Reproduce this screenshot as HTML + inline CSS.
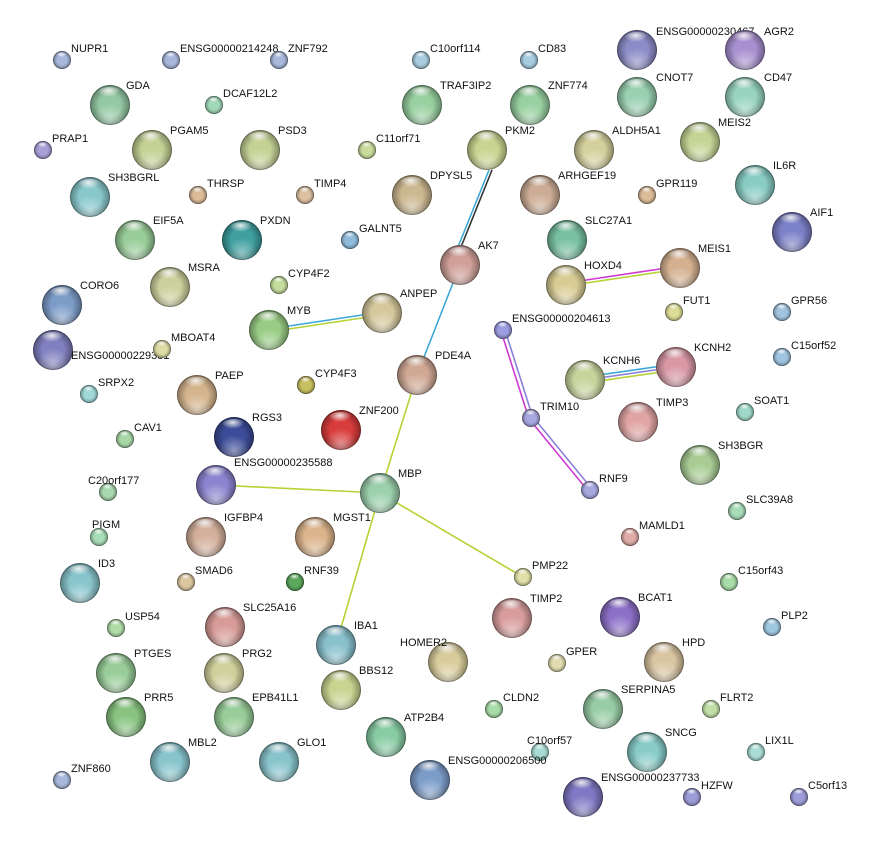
<!DOCTYPE html>
<html><head><meta charset="utf-8"><style>
body{margin:0;background:#fff}
svg{display:block}
text{font-family:"Liberation Sans",Arial,sans-serif;font-size:11px;fill:#111}
</style></head><body>
<svg width="870" height="844" viewBox="0 0 870 844" xmlns="http://www.w3.org/2000/svg">
<defs>
<radialGradient id="sh" cx="50%" cy="50%" r="50%"><stop offset="0.55" stop-color="#000" stop-opacity="0"/><stop offset="1" stop-color="#000" stop-opacity="0.35"/></radialGradient>
<radialGradient id="hl" cx="45%" cy="25%" r="45%"><stop offset="0" stop-color="#fff" stop-opacity="0.85"/><stop offset="1" stop-color="#fff" stop-opacity="0"/></radialGradient>
<radialGradient id="bt" cx="50%" cy="85%" r="40%"><stop offset="0" stop-color="#fff" stop-opacity="0.45"/><stop offset="1" stop-color="#fff" stop-opacity="0"/></radialGradient>
<g id="B"><circle cx="20" cy="20" r="20" fill="url(#sh)"/><circle cx="20" cy="20" r="20" fill="url(#bt)"/><ellipse cx="20" cy="9" rx="13" ry="7" fill="url(#hl)"/><circle cx="20" cy="20" r="19.5" fill="none" stroke="#000" stroke-opacity="0.25"/></g>
<g id="S"><circle cx="9" cy="9" r="9" fill="url(#sh)"/><ellipse cx="9" cy="5" rx="6" ry="3.5" fill="url(#hl)"/><circle cx="9" cy="9" r="8.6" fill="none" stroke="#000" stroke-opacity="0.25"/></g>
</defs>
<!-- edges -->
<g stroke-width="1.6" fill="none">
<line x1="489" y1="170" x2="458" y2="247" stroke="#3aa8d6"/>
<line x1="492" y1="170" x2="461" y2="247" stroke="#333"/>
<line x1="460" y1="265" x2="417" y2="375" stroke="#3aa8d6"/>
<line x1="417" y1="375" x2="380" y2="493" stroke="#b5d334"/>
<line x1="216" y1="485" x2="380" y2="493" stroke="#b5d334"/>
<line x1="380" y1="493" x2="523" y2="577" stroke="#b5d334"/>
<line x1="380" y1="493" x2="336" y2="645" stroke="#b5d334"/>
<line x1="269" y1="329" x2="382" y2="312" stroke="#3aa8d6"/>
<line x1="269" y1="332" x2="382" y2="315" stroke="#b5d334"/>
<line x1="566" y1="283" x2="680" y2="266" stroke="#d03ad0"/>
<line x1="566" y1="286" x2="680" y2="269" stroke="#b5d334"/>
<line x1="501" y1="331" x2="529" y2="419" stroke="#d03ad0"/>
<line x1="505" y1="330" x2="533" y2="418" stroke="#8a82d8"/>
<line x1="530" y1="420" x2="589" y2="492" stroke="#d03ad0"/>
<line x1="533" y1="417" x2="592" y2="489" stroke="#8a82d8"/>
<line x1="585" y1="377" x2="676" y2="364" stroke="#3aa8d6"/>
<line x1="585" y1="380" x2="676" y2="367" stroke="#8a82d8"/>
<line x1="585" y1="383" x2="676" y2="370" stroke="#b5d334"/>
</g>
<!-- nodes -->
<g>
<circle cx="62" cy="60" r="9" fill="#a8b8dc"/><use href="#S" x="53" y="51"/><text x="71" y="52">NUPR1</text>
<circle cx="171" cy="60" r="9" fill="#a8b8dc"/><use href="#S" x="162" y="51"/><text x="180" y="52">ENSG00000214248</text>
<circle cx="279" cy="60" r="9" fill="#a8b8dc"/><use href="#S" x="270" y="51"/><text x="288" y="52">ZNF792</text>
<circle cx="421" cy="60" r="9" fill="#a8cce0"/><use href="#S" x="412" y="51"/><text x="430" y="52">C10orf114</text>
<circle cx="529" cy="60" r="9" fill="#a8cce0"/><use href="#S" x="520" y="51"/><text x="538" y="52">CD83</text>
<circle cx="637" cy="50" r="20" fill="#8c8cc8"/><use href="#B" x="617" y="30"/><text x="656" y="35">ENSG00000230467</text>
<circle cx="745" cy="50" r="20" fill="#a890d0"/><use href="#B" x="725" y="30"/><text x="764" y="35">AGR2</text>
<circle cx="110" cy="105" r="20" fill="#94c8a4"/><use href="#B" x="90" y="85"/><text x="126" y="89">GDA</text>
<circle cx="214" cy="105" r="9" fill="#a0d8b8"/><use href="#S" x="205" y="96"/><text x="223" y="97">DCAF12L2</text>
<circle cx="422" cy="105" r="20" fill="#98d0a0"/><use href="#B" x="402" y="85"/><text x="440" y="89">TRAF3IP2</text>
<circle cx="530" cy="105" r="20" fill="#98d0a0"/><use href="#B" x="510" y="85"/><text x="548" y="89">ZNF774</text>
<circle cx="637" cy="97" r="20" fill="#98d0b0"/><use href="#B" x="617" y="77"/><text x="656" y="81">CNOT7</text>
<circle cx="745" cy="97" r="20" fill="#98d4c0"/><use href="#B" x="725" y="77"/><text x="764" y="81">CD47</text>
<circle cx="43" cy="150" r="9" fill="#a8a0d8"/><use href="#S" x="34" y="141"/><text x="52" y="142">PRAP1</text>
<circle cx="152" cy="150" r="20" fill="#c4d094"/><use href="#B" x="132" y="130"/><text x="170" y="134">PGAM5</text>
<circle cx="260" cy="150" r="20" fill="#c4d094"/><use href="#B" x="240" y="130"/><text x="278" y="134">PSD3</text>
<circle cx="367" cy="150" r="9" fill="#c8dc9c"/><use href="#S" x="358" y="141"/><text x="376" y="142">C11orf71</text>
<circle cx="487" cy="150" r="20" fill="#c8d490"/><use href="#B" x="467" y="130"/><text x="505" y="134">PKM2</text>
<circle cx="594" cy="150" r="20" fill="#d4d09c"/><use href="#B" x="574" y="130"/><text x="612" y="134">ALDH5A1</text>
<circle cx="700" cy="142" r="20" fill="#c4d494"/><use href="#B" x="680" y="122"/><text x="718" y="126">MEIS2</text>
<circle cx="90" cy="197" r="20" fill="#88c8cc"/><use href="#B" x="70" y="177"/><text x="108" y="181">SH3BGRL</text>
<circle cx="198" cy="195" r="9" fill="#dcbc98"/><use href="#S" x="189" y="186"/><text x="207" y="187">THRSP</text>
<circle cx="305" cy="195" r="9" fill="#dcc0a0"/><use href="#S" x="296" y="186"/><text x="314" y="187">TIMP4</text>
<circle cx="412" cy="195" r="20" fill="#ccb890"/><use href="#B" x="392" y="175"/><text x="430" y="179">DPYSL5</text>
<circle cx="540" cy="195" r="20" fill="#ccac94"/><use href="#B" x="520" y="175"/><text x="558" y="179">ARHGEF19</text>
<circle cx="647" cy="195" r="9" fill="#dcbc98"/><use href="#S" x="638" y="186"/><text x="656" y="187">GPR119</text>
<circle cx="755" cy="185" r="20" fill="#88ccc4"/><use href="#B" x="735" y="165"/><text x="773" y="169">IL6R</text>
<circle cx="135" cy="240" r="20" fill="#98cc98"/><use href="#B" x="115" y="220"/><text x="153" y="224">EIF5A</text>
<circle cx="242" cy="240" r="20" fill="#40a0a0"/><use href="#B" x="222" y="220"/><text x="260" y="224">PXDN</text>
<circle cx="350" cy="240" r="9" fill="#90bcdc"/><use href="#S" x="341" y="231"/><text x="359" y="232">GALNT5</text>
<circle cx="567" cy="240" r="20" fill="#78c0a0"/><use href="#B" x="547" y="220"/><text x="585" y="224">SLC27A1</text>
<circle cx="792" cy="232" r="20" fill="#7c80c8"/><use href="#B" x="772" y="212"/><text x="810" y="216">AIF1</text>
<circle cx="460" cy="265" r="20" fill="#d0a098"/><use href="#B" x="440" y="245"/><text x="478" y="249">AK7</text>
<circle cx="566" cy="285" r="20" fill="#d8cc94"/><use href="#B" x="546" y="265"/><text x="584" y="269">HOXD4</text>
<circle cx="680" cy="268" r="20" fill="#d4b090"/><use href="#B" x="660" y="248"/><text x="698" y="252">MEIS1</text>
<circle cx="62" cy="305" r="20" fill="#7c9cc8"/><use href="#B" x="42" y="285"/><text x="80" y="289">CORO6</text>
<circle cx="170" cy="287" r="20" fill="#ccd09c"/><use href="#B" x="150" y="267"/><text x="188" y="271">MSRA</text>
<circle cx="279" cy="285" r="9" fill="#c4dc9c"/><use href="#S" x="270" y="276"/><text x="288" y="277">CYP4F2</text>
<circle cx="674" cy="312" r="9" fill="#dcdc98"/><use href="#S" x="665" y="303"/><text x="683" y="304">FUT1</text>
<circle cx="782" cy="312" r="9" fill="#a0c4e0"/><use href="#S" x="773" y="303"/><text x="791" y="304">GPR56</text>
<circle cx="269" cy="330" r="20" fill="#98cc84"/><use href="#B" x="249" y="310"/><text x="287" y="314">MYB</text>
<circle cx="382" cy="313" r="20" fill="#d4c89c"/><use href="#B" x="362" y="293"/><text x="400" y="297">ANPEP</text>
<circle cx="53" cy="350" r="20" fill="#8080c0"/><use href="#B" x="33" y="330"/><text x="71" y="359">ENSG00000229381</text>
<circle cx="162" cy="349" r="9" fill="#dcdca4"/><use href="#S" x="153" y="340"/><text x="171" y="341">MBOAT4</text>
<circle cx="503" cy="330" r="9" fill="#9c9ce0"/><use href="#S" x="494" y="321"/><text x="512" y="322">ENSG00000204613</text>
<circle cx="585" cy="380" r="20" fill="#c8d49c"/><use href="#B" x="565" y="360"/><text x="603" y="364">KCNH6</text>
<circle cx="676" cy="367" r="20" fill="#d898a4"/><use href="#B" x="656" y="347"/><text x="694" y="351">KCNH2</text>
<circle cx="782" cy="357" r="9" fill="#a0c4e0"/><use href="#S" x="773" y="348"/><text x="791" y="349">C15orf52</text>
<circle cx="89" cy="394" r="9" fill="#a0d8d8"/><use href="#S" x="80" y="385"/><text x="98" y="386">SRPX2</text>
<circle cx="197" cy="395" r="20" fill="#d4b48c"/><use href="#B" x="177" y="375"/><text x="215" y="379">PAEP</text>
<circle cx="306" cy="385" r="9" fill="#c8c060"/><use href="#S" x="297" y="376"/><text x="315" y="377">CYP4F3</text>
<circle cx="417" cy="375" r="20" fill="#d0a894"/><use href="#B" x="397" y="355"/><text x="435" y="359">PDE4A</text>
<circle cx="341" cy="430" r="20" fill="#d83c3c"/><use href="#B" x="321" y="410"/><text x="359" y="414">ZNF200</text>
<circle cx="638" cy="422" r="20" fill="#e0a4a4"/><use href="#B" x="618" y="402"/><text x="656" y="406">TIMP3</text>
<circle cx="531" cy="418" r="9" fill="#a8a8e0"/><use href="#S" x="522" y="409"/><text x="540" y="410">TRIM10</text>
<circle cx="745" cy="412" r="9" fill="#a0d8c8"/><use href="#S" x="736" y="403"/><text x="754" y="404">SOAT1</text>
<circle cx="125" cy="439" r="9" fill="#a8d8a8"/><use href="#S" x="116" y="430"/><text x="134" y="431">CAV1</text>
<circle cx="234" cy="437" r="20" fill="#3c4c98"/><use href="#B" x="214" y="417"/><text x="252" y="421">RGS3</text>
<circle cx="700" cy="465" r="20" fill="#a8cc94"/><use href="#B" x="680" y="445"/><text x="718" y="449">SH3BGR</text>
<circle cx="216" cy="485" r="20" fill="#8c84d0"/><use href="#B" x="196" y="465"/><text x="234" y="466">ENSG00000235588</text>
<circle cx="108" cy="492" r="9" fill="#a8d8b0"/><use href="#S" x="99" y="483"/><text x="88" y="484">C20orf177</text>
<circle cx="380" cy="493" r="20" fill="#9cd0ac"/><use href="#B" x="360" y="473"/><text x="398" y="477">MBP</text>
<circle cx="590" cy="490" r="9" fill="#a8a8e0"/><use href="#S" x="581" y="481"/><text x="599" y="482">RNF9</text>
<circle cx="737" cy="511" r="9" fill="#a8dcb8"/><use href="#S" x="728" y="502"/><text x="746" y="503">SLC39A8</text>
<circle cx="206" cy="537" r="20" fill="#d4b09c"/><use href="#B" x="186" y="517"/><text x="224" y="521">IGFBP4</text>
<circle cx="315" cy="537" r="20" fill="#dcb48c"/><use href="#B" x="295" y="517"/><text x="333" y="521">MGST1</text>
<circle cx="99" cy="537" r="9" fill="#a8dcb8"/><use href="#S" x="90" y="528"/><text x="92" y="528">PIGM</text>
<circle cx="630" cy="537" r="9" fill="#e0aca8"/><use href="#S" x="621" y="528"/><text x="639" y="529">MAMLD1</text>
<circle cx="80" cy="583" r="20" fill="#88c4cc"/><use href="#B" x="60" y="563"/><text x="98" y="567">ID3</text>
<circle cx="186" cy="582" r="9" fill="#dcc8a0"/><use href="#S" x="177" y="573"/><text x="195" y="574">SMAD6</text>
<circle cx="295" cy="582" r="9" fill="#5ca85c"/><use href="#S" x="286" y="573"/><text x="304" y="574">RNF39</text>
<circle cx="523" cy="577" r="9" fill="#e0e0a8"/><use href="#S" x="514" y="568"/><text x="532" y="569">PMP22</text>
<circle cx="729" cy="582" r="9" fill="#a8dca8"/><use href="#S" x="720" y="573"/><text x="738" y="574">C15orf43</text>
<circle cx="512" cy="618" r="20" fill="#d89c9c"/><use href="#B" x="492" y="598"/><text x="530" y="602">TIMP2</text>
<circle cx="620" cy="617" r="20" fill="#8c70c8"/><use href="#B" x="600" y="597"/><text x="638" y="601">BCAT1</text>
<circle cx="116" cy="628" r="9" fill="#b0dca8"/><use href="#S" x="107" y="619"/><text x="125" y="620">USP54</text>
<circle cx="225" cy="627" r="20" fill="#d89c98"/><use href="#B" x="205" y="607"/><text x="243" y="611">SLC25A16</text>
<circle cx="336" cy="645" r="20" fill="#88c0cc"/><use href="#B" x="316" y="625"/><text x="354" y="629">IBA1</text>
<circle cx="772" cy="627" r="9" fill="#a0c8e0"/><use href="#S" x="763" y="618"/><text x="781" y="619">PLP2</text>
<circle cx="116" cy="673" r="20" fill="#98cc98"/><use href="#B" x="96" y="653"/><text x="134" y="657">PTGES</text>
<circle cx="224" cy="673" r="20" fill="#d0d09c"/><use href="#B" x="204" y="653"/><text x="242" y="657">PRG2</text>
<circle cx="448" cy="662" r="20" fill="#d8cc9c"/><use href="#B" x="428" y="642"/><text x="400" y="646">HOMER2</text>
<circle cx="557" cy="663" r="9" fill="#e0dcb0"/><use href="#S" x="548" y="654"/><text x="566" y="655">GPER</text>
<circle cx="664" cy="662" r="20" fill="#d8c4a0"/><use href="#B" x="644" y="642"/><text x="682" y="646">HPD</text>
<circle cx="341" cy="690" r="20" fill="#c8d490"/><use href="#B" x="321" y="670"/><text x="359" y="674">BBS12</text>
<circle cx="126" cy="717" r="20" fill="#88c480"/><use href="#B" x="106" y="697"/><text x="144" y="701">PRR5</text>
<circle cx="234" cy="717" r="20" fill="#98cc98"/><use href="#B" x="214" y="697"/><text x="252" y="701">EPB41L1</text>
<circle cx="494" cy="709" r="9" fill="#a8dca8"/><use href="#S" x="485" y="700"/><text x="503" y="701">CLDN2</text>
<circle cx="603" cy="709" r="20" fill="#98cca4"/><use href="#B" x="583" y="689"/><text x="621" y="693">SERPINA5</text>
<circle cx="711" cy="709" r="9" fill="#c0e0a8"/><use href="#S" x="702" y="700"/><text x="720" y="701">FLRT2</text>
<circle cx="386" cy="737" r="20" fill="#88cca4"/><use href="#B" x="366" y="717"/><text x="404" y="721">ATP2B4</text>
<circle cx="170" cy="762" r="20" fill="#88c4cc"/><use href="#B" x="150" y="742"/><text x="188" y="746">MBL2</text>
<circle cx="279" cy="762" r="20" fill="#88c4cc"/><use href="#B" x="259" y="742"/><text x="297" y="746">GLO1</text>
<circle cx="540" cy="752" r="9" fill="#a8dcd4"/><use href="#S" x="531" y="743"/><text x="527" y="744">C10orf57</text>
<circle cx="647" cy="752" r="20" fill="#88ccc8"/><use href="#B" x="627" y="732"/><text x="665" y="736">SNCG</text>
<circle cx="756" cy="752" r="9" fill="#a8dcd4"/><use href="#S" x="747" y="743"/><text x="765" y="744">LIX1L</text>
<circle cx="62" cy="780" r="9" fill="#a8b8dc"/><use href="#S" x="53" y="771"/><text x="71" y="772">ZNF860</text>
<circle cx="430" cy="780" r="20" fill="#7c9cc8"/><use href="#B" x="410" y="760"/><text x="448" y="764">ENSG00000206500</text>
<circle cx="583" cy="797" r="20" fill="#8078c4"/><use href="#B" x="563" y="777"/><text x="601" y="781">ENSG00000237733</text>
<circle cx="692" cy="797" r="9" fill="#9c9cd8"/><use href="#S" x="683" y="788"/><text x="701" y="789">HZFW</text>
<circle cx="799" cy="797" r="9" fill="#9c9cd8"/><use href="#S" x="790" y="788"/><text x="808" y="789">C5orf13</text>
</g>
</svg>
</body></html>
